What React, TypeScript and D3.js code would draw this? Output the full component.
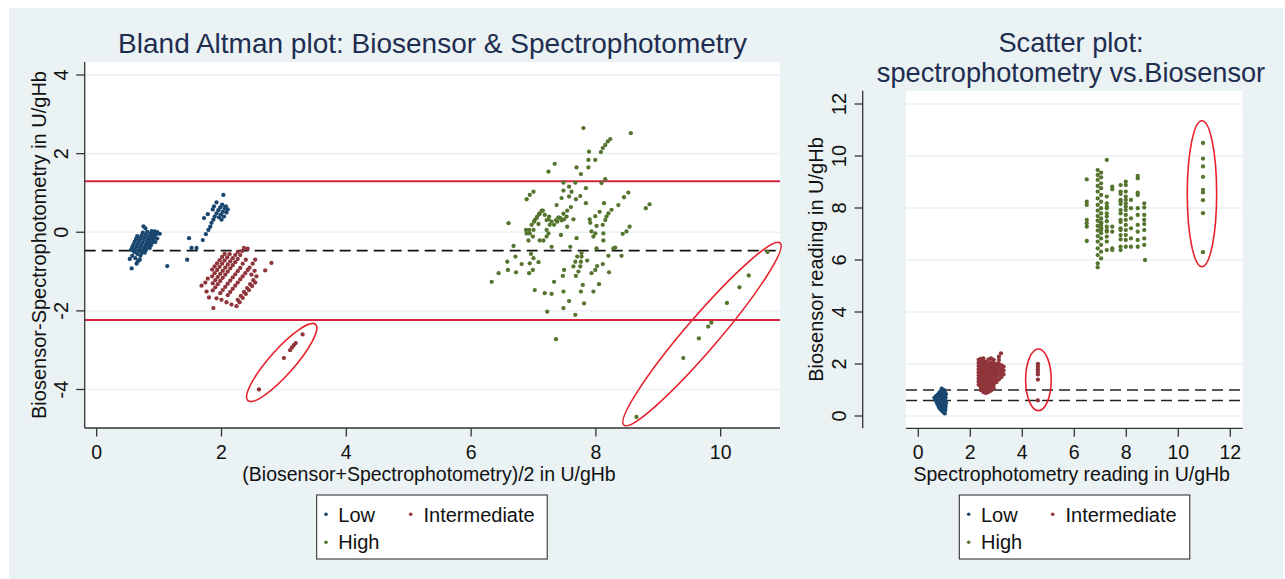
import React from 'react';
import * as d3 from 'd3';

type P = [number, number];

// ---------- Bland-Altman panel data: [mean, difference] ----------
const baLow: P[] = [
  [0.55,-0.45],[0.57,-0.38],[0.59,-0.31],[0.61,-0.24],[0.63,-0.17],[0.65,-0.10],
  [0.60,-0.50],[0.62,-0.43],[0.64,-0.36],[0.66,-0.29],[0.68,-0.22],[0.70,-0.15],[0.72,-0.08],[0.74,-0.01],
  [0.65,-0.55],[0.67,-0.48],[0.69,-0.41],[0.71,-0.34],[0.73,-0.27],[0.75,-0.20],[0.77,-0.13],[0.79,-0.06],[0.81,0.01],[0.78,0.10],[0.75,0.15],
  [0.70,-0.60],[0.72,-0.53],[0.74,-0.46],[0.76,-0.39],[0.78,-0.32],[0.80,-0.25],[0.82,-0.18],[0.84,-0.11],[0.86,-0.04],[0.88,0.03],
  [0.77,-0.52],[0.79,-0.45],[0.81,-0.38],[0.83,-0.31],[0.85,-0.24],[0.87,-0.17],[0.89,-0.10],[0.91,-0.03],[0.93,0.02],
  [0.85,-0.40],[0.87,-0.33],[0.89,-0.26],[0.91,-0.19],[0.93,-0.12],[0.95,-0.05],[0.97,0.00],
  [0.94,-0.25],[0.97,-0.16],[1.01,-0.04],
  [0.56,-0.92],[0.53,-0.68],[0.57,-0.60],[0.62,-0.66],[0.66,-0.74],[0.69,-0.70],[0.64,-0.80],
  [1.13,-0.86],[1.45,-0.70],[1.48,-0.15],[1.52,-0.40],[1.60,-0.40],[1.70,-0.20],[1.75,-0.05],[1.79,0.06],[1.82,0.14],
  [1.72,0.36],[1.78,0.46],[1.84,0.24],[1.87,0.32],[1.89,0.40],[1.92,0.48],[1.95,0.56],[1.98,0.63],[2.01,0.70],
  [1.86,0.58],[1.92,0.76],[1.88,0.66],[2.03,0.95],[1.96,0.38],[1.99,0.45],[2.02,0.52],[2.05,0.60],[2.07,0.66],
  [2.10,0.58],[2.08,0.50],[2.04,0.40],[2.00,0.32]
];

const baInt: P[] = [
  [1.85,-0.95],[1.89,-0.87],[1.93,-0.79],[1.97,-0.71],[2.01,-0.63],[2.05,-0.55],
  [1.85,-1.12],[1.89,-1.04],[1.93,-0.96],[1.97,-0.88],[2.01,-0.80],[2.05,-0.72],[2.09,-0.64],[2.13,-0.56],
  [1.86,-1.30],[1.90,-1.22],[1.94,-1.14],[1.98,-1.06],[2.02,-0.98],[2.06,-0.90],[2.10,-0.82],[2.14,-0.74],[2.18,-0.66],[2.22,-0.58],[2.26,-0.50],
  [1.86,-1.48],[1.90,-1.40],[1.94,-1.32],[1.98,-1.24],[2.02,-1.16],[2.06,-1.08],[2.10,-1.00],[2.14,-0.92],[2.18,-0.84],[2.22,-0.76],[2.26,-0.68],[2.30,-0.58],[2.33,-0.48],[2.36,-0.40],
  [1.98,-1.55],[2.02,-1.47],[2.06,-1.39],[2.10,-1.31],[2.14,-1.23],[2.18,-1.15],[2.22,-1.07],[2.26,-0.99],[2.30,-0.91],[2.34,-0.80],[2.39,-0.70],[2.42,-0.42],
  [2.10,-1.60],[2.14,-1.52],[2.18,-1.44],[2.22,-1.36],[2.26,-1.28],[2.30,-1.20],[2.34,-1.12],[2.38,-1.04],[2.42,-0.96],
  [2.26,-1.72],[2.31,-1.62],[2.36,-1.52],[2.41,-1.42],[2.46,-1.32],[2.51,-1.22],[2.56,-1.12],
  [2.24,-1.88],[2.29,-1.78],[2.34,-1.67],[2.39,-1.57],[2.44,-1.47],[2.49,-1.37],[2.54,-1.28],
  [2.45,-0.90],[2.50,-0.80],[2.54,-0.70],[2.48,-1.08],[2.53,-0.98],
  [2.80,-0.78],[2.70,-0.97],[1.68,-1.36],[1.76,-1.51],[1.80,-1.66],[1.87,-1.93],[1.92,-1.68],
  [2.00,-1.72],[2.08,-1.78],[2.16,-1.84],[1.74,-1.28],[1.78,-1.18]
];
const baIntOut: P[] = [[2.60,-4.00],[3.00,-3.20],[3.10,-3.00],[3.13,-2.93],[3.16,-2.87],[3.19,-2.82],[3.30,-2.60]];

const baHigh: P[] = [
  [7.80,2.65],[8.56,2.52],[8.23,2.37],[8.19,2.31],[8.15,2.22],[8.11,2.14],[8.08,2.04],[7.89,2.05],[7.99,1.84],[7.88,1.84],
  [7.34,1.74],[7.24,1.54],[7.69,1.65],[7.76,1.48],[7.88,1.65],[8.15,1.35],[8.09,1.25],[7.48,1.26],[7.67,1.26],[7.57,1.16],
  [7.61,1.03],[7.57,0.91],[7.48,1.06],[7.45,0.87],[7.84,1.12],[7.75,0.92],[7.68,0.84],[7.00,1.03],[6.94,0.95],[6.89,0.84],
  [7.37,0.69],[7.60,0.64],[7.54,0.55],[7.48,0.47],[7.43,0.36],[7.38,0.27],[7.84,0.74],[7.64,0.33],[7.13,0.55],[7.09,0.47],
  [7.05,0.36],[7.01,0.27],[6.97,0.19],[6.93,0.06],[6.89,-0.03],[7.18,0.44],[7.24,0.33],[7.26,0.19],[7.21,0.06],[6.60,0.23],
  [6.88,0.06],[7.10,-0.21],[7.16,-0.21],[7.24,-0.03],[7.21,-0.11],[7.44,-0.07],[7.54,0.14],[7.29,-0.37],[7.69,-0.15],[7.59,-0.37],
  [6.68,-0.35],[6.71,-0.62],[6.58,-0.75],[6.59,-0.96],[6.72,-1.02],[6.81,-0.81],[6.94,-0.79],[6.93,-1.04],[6.99,-0.96],[7.08,-0.76],
  [7.00,-0.66],[6.96,-0.55],[6.44,-1.04],[6.33,-1.26],[7.02,-1.47],[7.18,-1.55],[7.29,-1.57],[7.22,-2.02],[7.36,-2.72],[7.48,-1.51],
  [7.48,-1.93],[7.57,-1.75],[7.67,-2.10],[7.33,-1.26],[7.47,-1.11],[7.49,-0.96],[7.68,-1.11],[7.72,-1.00],[7.75,-0.87],[7.76,-0.75],
  [7.77,-0.62],[7.77,-0.53],[7.64,-0.87],[7.67,-0.75],[7.70,-0.62],[7.79,-1.34],[7.76,-1.51],[7.81,-1.81],[7.96,-1.51],[8.05,-1.32],
  [7.86,-0.72],[7.93,-1.04],[7.99,-0.96],[8.02,-0.86],[8.11,-0.81],[8.21,-1.02],[8.20,-0.60],[8.28,-0.41],[8.31,-0.39],[8.41,-0.60],
  [8.01,-0.41],[8.12,-0.21],[7.96,-0.11],[7.99,-0.03],[7.93,0.02],[8.01,0.16],[7.91,0.24],[7.90,0.33],[7.99,0.41],[8.06,0.52],
  [8.11,0.19],[8.15,0.31],[8.17,0.40],[8.20,0.48],[8.25,0.57],[8.13,0.74],[8.36,0.69],[8.45,0.89],[8.52,1.01],[8.43,-0.04],
  [8.49,0.02],[8.54,0.14],[8.12,-0.03],[8.80,0.61],[8.86,0.71],
  [7.02,0.31],[7.06,0.40],[7.10,0.47],[7.15,0.55],[7.21,0.31],[7.25,0.40],[7.29,0.27],[7.33,0.19],[7.36,0.31],[7.40,0.38],
  [7.45,0.30],[7.49,0.33],[7.53,0.40],[7.08,0.21],[7.00,0.06],[6.94,-0.03],[6.99,-0.11],[6.92,-0.21]
];
const baHighOut: P[] = [[8.65,-4.70],[9.40,-3.20],[9.65,-2.70],[9.80,-2.40],[9.85,-2.30],[10.10,-1.80],[10.30,-1.40],[10.45,-1.10],[10.75,-0.50]];

const baMean = -0.465;
const baLimits = [1.30, -2.23];
const baXTicks = [0, 2, 4, 6, 8, 10];
const baYTicks = [-4, -2, 0, 2, 4];

// ---------- Scatter panel data: [spectrophotometry, biosensor] ----------
const scLow: P[] = [
  [0.90,1.05],[0.95,1.00],[1.00,0.98],[0.85,0.95],[0.92,0.92],[1.03,0.90],[0.80,0.88],[0.88,0.86],[0.97,0.85],[1.06,0.84],
  [0.75,0.82],[0.83,0.80],[0.93,0.79],[1.01,0.78],[0.68,0.76],[0.78,0.74],[0.87,0.73],[0.96,0.72],[1.05,0.71],[0.62,0.70],
  [0.72,0.68],[0.82,0.67],[0.91,0.66],[1.00,0.65],[0.65,0.62],[0.75,0.61],[0.85,0.60],[0.94,0.59],[1.04,0.58],[0.70,0.55],
  [0.80,0.54],[0.89,0.53],[0.98,0.52],[1.07,0.50],[0.73,0.47],[0.83,0.46],[0.92,0.45],[1.01,0.44],[0.77,0.40],[0.87,0.39],
  [0.96,0.38],[1.05,0.37],[0.80,0.33],[0.90,0.32],[0.99,0.31],[0.85,0.26],[0.95,0.25],[1.04,0.24],[0.92,0.19],[1.00,0.18],
  [1.02,0.10],[0.97,0.14]
];
const scInt: P[] = [
  [2.32,1.20],[2.32,1.32],[2.32,1.44],[2.32,1.56],[2.32,1.68],[2.32,1.80],[2.32,1.92],[2.32,2.04],[2.32,2.16],
  [2.40,1.00],[2.40,1.12],[2.40,1.24],[2.40,1.36],[2.40,1.48],[2.40,1.60],[2.40,1.72],[2.40,1.84],[2.40,1.96],[2.40,2.08],[2.40,2.20],
  [2.50,0.92],[2.50,1.05],[2.50,1.18],[2.50,1.30],[2.50,1.42],[2.50,1.54],[2.50,1.66],[2.50,1.78],[2.50,1.90],[2.50,2.02],[2.50,2.14],[2.50,2.22],
  [2.60,0.88],[2.60,1.01],[2.60,1.13],[2.60,1.25],[2.60,1.37],[2.60,1.49],[2.60,1.61],[2.60,1.73],[2.60,1.85],[2.60,1.97],[2.60,2.08],
  [2.70,0.92],[2.70,1.05],[2.70,1.17],[2.70,1.29],[2.70,1.41],[2.70,1.53],[2.70,1.65],[2.70,1.77],[2.70,1.89],[2.70,2.01],[2.70,2.18],
  [2.80,0.98],[2.80,1.10],[2.80,1.22],[2.80,1.34],[2.80,1.46],[2.80,1.58],[2.80,1.70],[2.80,1.82],[2.80,1.94],[2.80,2.06],[2.80,2.22],
  [2.90,1.08],[2.90,1.20],[2.90,1.32],[2.90,1.44],[2.90,1.56],[2.90,1.68],[2.90,1.80],[2.90,1.92],[2.90,2.04],[2.90,2.16],
  [3.00,1.30],[3.00,1.42],[3.00,1.54],[3.00,1.66],[3.00,1.78],[3.00,1.90],[3.00,2.00],
  [3.10,1.40],[3.10,1.55],[3.10,1.70],[3.10,1.85],[3.10,2.00],[3.10,2.15],[3.10,2.28],
  [3.20,1.50],[3.20,1.65],[3.20,1.80],[3.20,1.95],[3.18,2.41],
  [3.28,1.60],[3.28,1.75],[3.28,1.90]
];
const scIntOut: P[] = [[4.6,2.0],[4.6,1.9],[4.6,1.8],[4.6,1.7],[4.6,1.6],[4.6,1.4],[4.6,0.6]];
const scHigh: P[] = [
  [6.48,9.10],[6.48,8.24],[6.48,8.12],[6.48,7.54],[6.48,7.41],[6.48,7.28],[6.48,6.73],
  [6.90,9.46],[6.90,9.27],[6.90,9.08],[6.90,8.85],[6.90,8.63],[6.90,8.37],[6.90,8.12],[6.90,7.90],[6.90,7.69],[6.90,7.51],
  [6.90,7.31],[6.90,7.13],[6.90,6.92],[6.90,6.71],[6.90,6.45],[6.90,6.19],[6.90,5.87],[6.90,5.72],
  [7.03,9.36],[7.03,9.18],[7.03,8.95],[7.03,8.76],[7.03,8.50],[7.03,8.24],[7.03,7.99],[7.03,7.79],[7.03,7.60],[7.03,7.41],
  [7.03,7.22],[7.03,7.03],[7.03,6.83],[7.03,6.58],[7.03,6.32],[7.03,6.06],[7.03,7.35],[7.03,7.15],[7.03,7.45],[7.03,7.25],
  [7.25,9.85],[7.25,8.44],[7.25,8.18],[7.25,7.99],[7.25,7.79],[7.25,7.67],[7.25,7.49],[7.25,7.28],[7.25,7.09],[7.25,6.90],
  [7.25,6.71],[7.25,6.38],[7.25,8.05],[7.25,7.15],
  [7.46,8.82],[7.46,8.72],[7.46,7.28],[7.46,7.09],[7.46,6.45],[7.46,6.38],
  [7.78,8.54],[7.78,8.24],[7.78,7.79],[7.78,7.46],[7.78,7.22],[7.78,6.79],[7.78,6.38],[7.78,8.88],[7.78,8.63],[7.78,8.31],
  [7.78,8.15],[7.78,7.92],[7.78,7.54],[7.78,7.15],[7.78,6.96],[7.78,6.51],
  [7.98,9.01],[7.98,8.88],[7.98,8.63],[7.98,8.44],[7.98,8.31],[7.98,8.18],[7.98,8.05],[7.98,7.92],[7.98,7.73],[7.98,7.54],
  [7.98,7.35],[7.98,7.15],[7.98,6.96],[7.98,6.77],[7.98,6.51],
  [8.18,7.99],[8.18,7.60],[8.18,7.22],[8.18,6.83],[8.18,6.51],[8.18,8.31],
  [8.44,9.23],[8.44,9.14],[8.44,8.59],[8.44,8.50],[8.44,7.99],[8.44,7.73],[8.44,7.35],[8.44,7.09],[8.44,6.77],[8.44,6.51],
  [8.69,8.18],[8.69,8.02],[8.69,7.73],[8.69,7.54],[8.69,7.38],[8.69,7.15],[8.69,6.83],[8.69,6.58],[8.72,6.00]
];
const scHighOut: P[] = [[10.95,10.5],[10.95,9.9],[10.95,9.6],[10.95,9.2],[10.95,8.7],[10.95,8.6],[10.95,8.3],[10.95,7.8],[10.95,6.3]];
const scRefLines = [1.0, 0.6];
const scTicks = [0, 2, 4, 6, 8, 10, 12];

const categories = ['Low', 'Intermediate', 'High'];

const FONT = "'Liberation Sans', Arial, Helvetica, sans-serif";
const C_LOW = '#1a476f';
const C_INT = '#90353b';
const C_HIGH = '#55752f';
const BG = '#eaf2f3';
const TITLE = '#1e2d50';
const ELL = '#e8202a';

export default function App() {
  const xL = d3.scaleLinear().domain([0, 10]).range([96.7, 720.7]);
  const yL = d3.scaleLinear().domain([-4, 4]).range([389.5, 75]);
  const xR = d3.scaleLinear().domain([0, 12]).range([918.3, 1230.3]);
  const yR = d3.scaleLinear().domain([0, 12]).range([416, 104]);
  const L = { x0: 84.7, x1: 780, y0: 62, y1: 428 };
  const R = { x0: 906, x1: 1242.7, y0: 90.7, y1: 428.3, ax: 862.7 };

  const dots = (data: P[], sx: any, sy: any, color: string, key: string) =>
    data.map((d, i) => <circle key={key + i} cx={sx(d[0])} cy={sy(d[1])} r={2.15} fill={color} />);

  const legend = (x0: number, mx1: number, mx2: number) => (
    <g>
      <rect x={x0} y={495} width={230.5} height={64} fill="#fff" stroke="#222" strokeWidth={1} />
      <circle cx={mx1} cy={514.3} r={1.8} fill={C_LOW} />
      <text x={mx1 + 12.3} y={521.5} fontSize={20} fill="#111">{categories[0]}</text>
      <circle cx={mx2} cy={514.3} r={1.8} fill={C_INT} />
      <text x={mx2 + 12.8} y={521.5} fontSize={20} fill="#111">{categories[1]}</text>
      <circle cx={mx1} cy={542.3} r={1.8} fill={C_HIGH} />
      <text x={mx1 + 12.3} y={549.3} fontSize={20} fill="#111">{categories[2]}</text>
    </g>
  );

  return (
    <div style={{ position: 'absolute', left: 0, top: 0, width: 1285, height: 579, overflow: 'hidden', background: '#fff' }}>
      <svg width={1285} height={579} style={{ display: 'block' }} fontFamily={FONT}>
        <rect x={9} y={8} width={1274} height={571} fill={BG} />

        {/* ---------- Left: Bland-Altman ---------- */}
        <text x={432.5} y={53.3} fontSize={28} fill={TITLE} textAnchor="middle">
          Bland Altman plot: Biosensor &amp; Spectrophotometry
        </text>
        <rect x={L.x0} y={L.y0} width={L.x1 - L.x0} height={L.y1 - L.y0} fill="#fff" />
        {baYTicks.map(t => (
          <line key={'gl' + t} x1={L.x0} x2={L.x1} y1={yL(t)} y2={yL(t)} stroke={BG} strokeWidth={1.6} />
        ))}
        {baLimits.map(v => (
          <line key={'lim' + v} x1={L.x0} x2={L.x1} y1={yL(v)} y2={yL(v)} stroke="#d3243f" strokeWidth={2} />
        ))}
        <line x1={L.x0} x2={L.x1} y1={yL(baMean)} y2={yL(baMean)} stroke="#111" strokeWidth={1.8} strokeDasharray="11,6" />
        {dots(baLow, xL, yL, C_LOW, 'bl')}
        {dots(baInt, xL, yL, C_INT, 'bi')}
        {dots(baIntOut, xL, yL, C_INT, 'bio')}
        {dots(baHigh, xL, yL, C_HIGH, 'bh')}
        {dots(baHighOut, xL, yL, C_HIGH, 'bho')}
        <ellipse cx={xL(2.965)} cy={yL(-3.313)} rx={51} ry={12.5} fill="none" stroke={ELL} strokeWidth={1.6}
          transform={`rotate(-48.4 ${xL(2.965)} ${yL(-3.313)})`} />
        <ellipse cx={xL(9.70)} cy={yL(-2.59)} rx={120} ry={16.5} fill="none" stroke={ELL} strokeWidth={1.6}
          transform={`rotate(-49.4 ${xL(9.70)} ${yL(-2.59)})`} />
        {/* axes */}
        <line x1={L.x0} x2={L.x0} y1={L.y0} y2={L.y1} stroke="#333" strokeWidth={1.3} />
        <line x1={L.x0} x2={L.x1} y1={L.y1} y2={L.y1} stroke="#333" strokeWidth={1.3} />
        {baYTicks.map(t => (
          <g key={'yt' + t}>
            <line x1={L.x0 - 8.5} x2={L.x0} y1={yL(t)} y2={yL(t)} stroke="#333" strokeWidth={1.3} />
            <text transform={`translate(68,${yL(t)}) rotate(-90)`} fontSize={20} textAnchor="middle" fill="#111">{t}</text>
          </g>
        ))}
        {baXTicks.map(t => (
          <g key={'xt' + t}>
            <line x1={xL(t)} x2={xL(t)} y1={L.y1} y2={L.y1 + 8.5} stroke="#333" strokeWidth={1.3} />
            <text x={xL(t)} y={459} fontSize={19.5} textAnchor="middle" fill="#111">{t}</text>
          </g>
        ))}
        <text x={429} y={481} fontSize={19.5} textAnchor="middle" fill="#111">(Biosensor+Spectrophotometry)/2 in U/gHb</text>
        <text transform={`translate(45.5,245) rotate(-90)`} fontSize={20} textAnchor="middle" fill="#111">Biosensor-Spectrophotometry in U/gHb</text>
        {legend(316.7, 326, 410.7)}

        {/* ---------- Right: Scatter ---------- */}
        <text x={1071} y={51.5} fontSize={27.2} fill={TITLE} textAnchor="middle">Scatter plot:</text>
        <text x={1071} y={82} fontSize={27.2} fill={TITLE} textAnchor="middle">spectrophotometry vs.Biosensor</text>
        <rect x={R.x0} y={R.y0} width={R.x1 - R.x0} height={R.y1 - R.y0} fill="#fff" />
        {scTicks.map(t => (
          <line key={'gr' + t} x1={R.x0} x2={R.x1} y1={yR(t)} y2={yR(t)} stroke={BG} strokeWidth={1.6} />
        ))}
        {scRefLines.map(v => (
          <line key={'ref' + v} x1={R.x0} x2={R.x1} y1={yR(v)} y2={yR(v)} stroke="#222" strokeWidth={1.5} strokeDasharray="11,6" />
        ))}
        {dots(scLow, xR, yR, C_LOW, 'sl')}
        {dots(scInt, xR, yR, C_INT, 'si')}
        {dots(scIntOut, xR, yR, C_INT, 'sio')}
        {dots(scHigh, xR, yR, C_HIGH, 'sh')}
        {dots(scHighOut, xR, yR, C_HIGH, 'sho')}
        <ellipse cx={xR(4.62)} cy={yR(1.39)} rx={12.8} ry={30.8} fill="none" stroke={ELL} strokeWidth={1.6} />
        <ellipse cx={xR(10.91)} cy={yR(8.55)} rx={14.7} ry={73} fill="none" stroke={ELL} strokeWidth={1.6} />
        <line x1={R.ax} x2={R.ax} y1={R.y0} y2={R.y1} stroke="#333" strokeWidth={1.3} />
        <line x1={R.x0} x2={R.x1} y1={R.y1} y2={R.y1} stroke="#333" strokeWidth={1.3} />
        {scTicks.map(t => (
          <g key={'syt' + t}>
            <line x1={R.ax - 8} x2={R.ax} y1={yR(t)} y2={yR(t)} stroke="#333" strokeWidth={1.3} />
            <text transform={`translate(846,${yR(t)}) rotate(-90)`} fontSize={20} textAnchor="middle" fill="#111">{t}</text>
          </g>
        ))}
        {scTicks.map(t => (
          <g key={'sxt' + t}>
            <line x1={xR(t)} x2={xR(t)} y1={R.y1} y2={R.y1 + 8.5} stroke="#333" strokeWidth={1.3} />
            <text x={xR(t)} y={459} fontSize={19.5} textAnchor="middle" fill="#111">{t}</text>
          </g>
        ))}
        <text x={1071.7} y={481} fontSize={19.5} textAnchor="middle" fill="#111">Spectrophotometry reading in U/gHb</text>
        <text transform={`translate(823,259.5) rotate(-90)`} fontSize={20} textAnchor="middle" fill="#111">Biosensor reading in U/gHb</text>
        {legend(959.3, 968.7, 1052.7)}
      </svg>
    </div>
  );
}
